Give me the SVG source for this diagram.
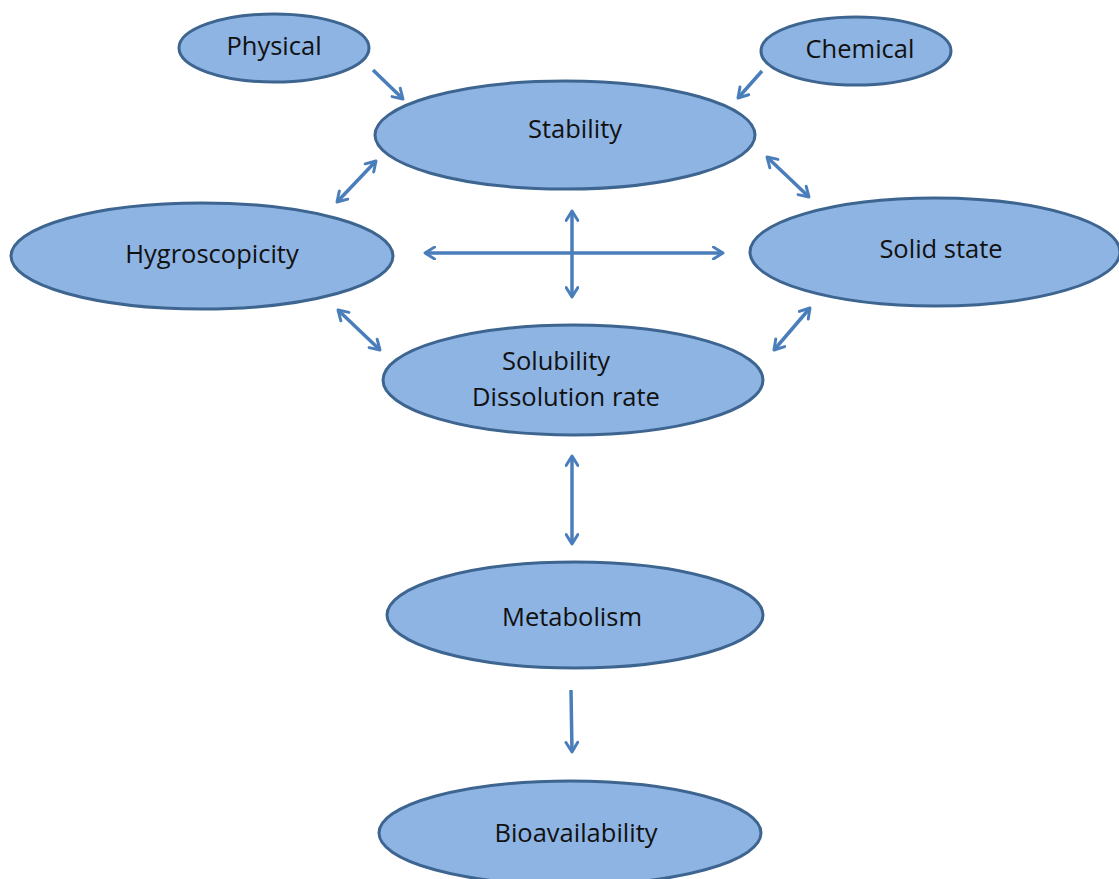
<svg xmlns="http://www.w3.org/2000/svg" width="1119" height="879" viewBox="0 0 1119 879">
<style>
.n ellipse{fill:#8EB4E3;stroke:#3D6590;stroke-width:3}
.n text{font-family:"Open Sans","Liberation Sans",sans-serif;font-size:25.5px;fill:#111;text-anchor:middle}
.c line{stroke:#4A7EBB;stroke-width:3.5;fill:none;marker-end:url(#ah)}
.c line.b{marker-start:url(#ah)}
</style>
<defs>
<marker id="ah" viewBox="0 0 10 10" refX="8.5" refY="5" markerWidth="4.2" markerHeight="4.2" orient="auto-start-reverse" markerUnits="strokeWidth">
<path d="M2,1 L8.5,5 L2,9" fill="none" stroke="#4A7EBB" stroke-width="2" stroke-linecap="round" stroke-linejoin="round"/>
</marker>
</defs>
<rect width="1119" height="879" fill="#fff"/>
<g id="physical" class="n"><ellipse cx="274" cy="48" rx="95" ry="34"/><text x="274" y="55">Physical</text></g>
<g id="chemical" class="n"><ellipse cx="856" cy="51" rx="95" ry="34"/><text x="860" y="58">Chemical</text></g>
<g id="stability" class="n"><ellipse cx="565" cy="135" rx="190" ry="54"/><text x="575" y="138">Stability</text></g>
<g id="hygroscopicity" class="n"><ellipse cx="202" cy="256" rx="191" ry="53"/><text x="212" y="263">Hygroscopicity</text></g>
<g id="solidstate" class="n"><ellipse cx="935" cy="252" rx="185" ry="54"/><text x="941" y="258">Solid state</text></g>
<g id="solubility" class="n"><ellipse cx="573" cy="380" rx="190" ry="55"/><text x="556" y="370">Solubility</text><text x="566" y="406">Dissolution rate</text></g>
<g id="metabolism" class="n"><ellipse cx="575" cy="615" rx="188" ry="53"/><text x="572" y="626">Metabolism</text></g>
<g id="bioavailability" class="n"><ellipse cx="570" cy="833" rx="191" ry="52"/><text x="576" y="842">Bioavailability</text></g>
<g id="connectors" class="c">
<line x1="373" y1="70" x2="403" y2="99"/>
<line x1="762" y1="71" x2="738" y2="98"/>
<line class="b" x1="376" y1="161" x2="337" y2="202"/>
<line class="b" x1="767" y1="157" x2="809" y2="197"/>
<line class="b" x1="425" y1="253" x2="723" y2="253"/>
<line class="b" x1="572" y1="211" x2="572" y2="297"/>
<line class="b" x1="338" y1="310" x2="380" y2="350"/>
<line class="b" x1="810" y1="308" x2="774" y2="350"/>
<line class="b" x1="572" y1="456" x2="572" y2="544"/>
<line x1="571" y1="690" x2="572" y2="752"/>
</g>
</svg>
